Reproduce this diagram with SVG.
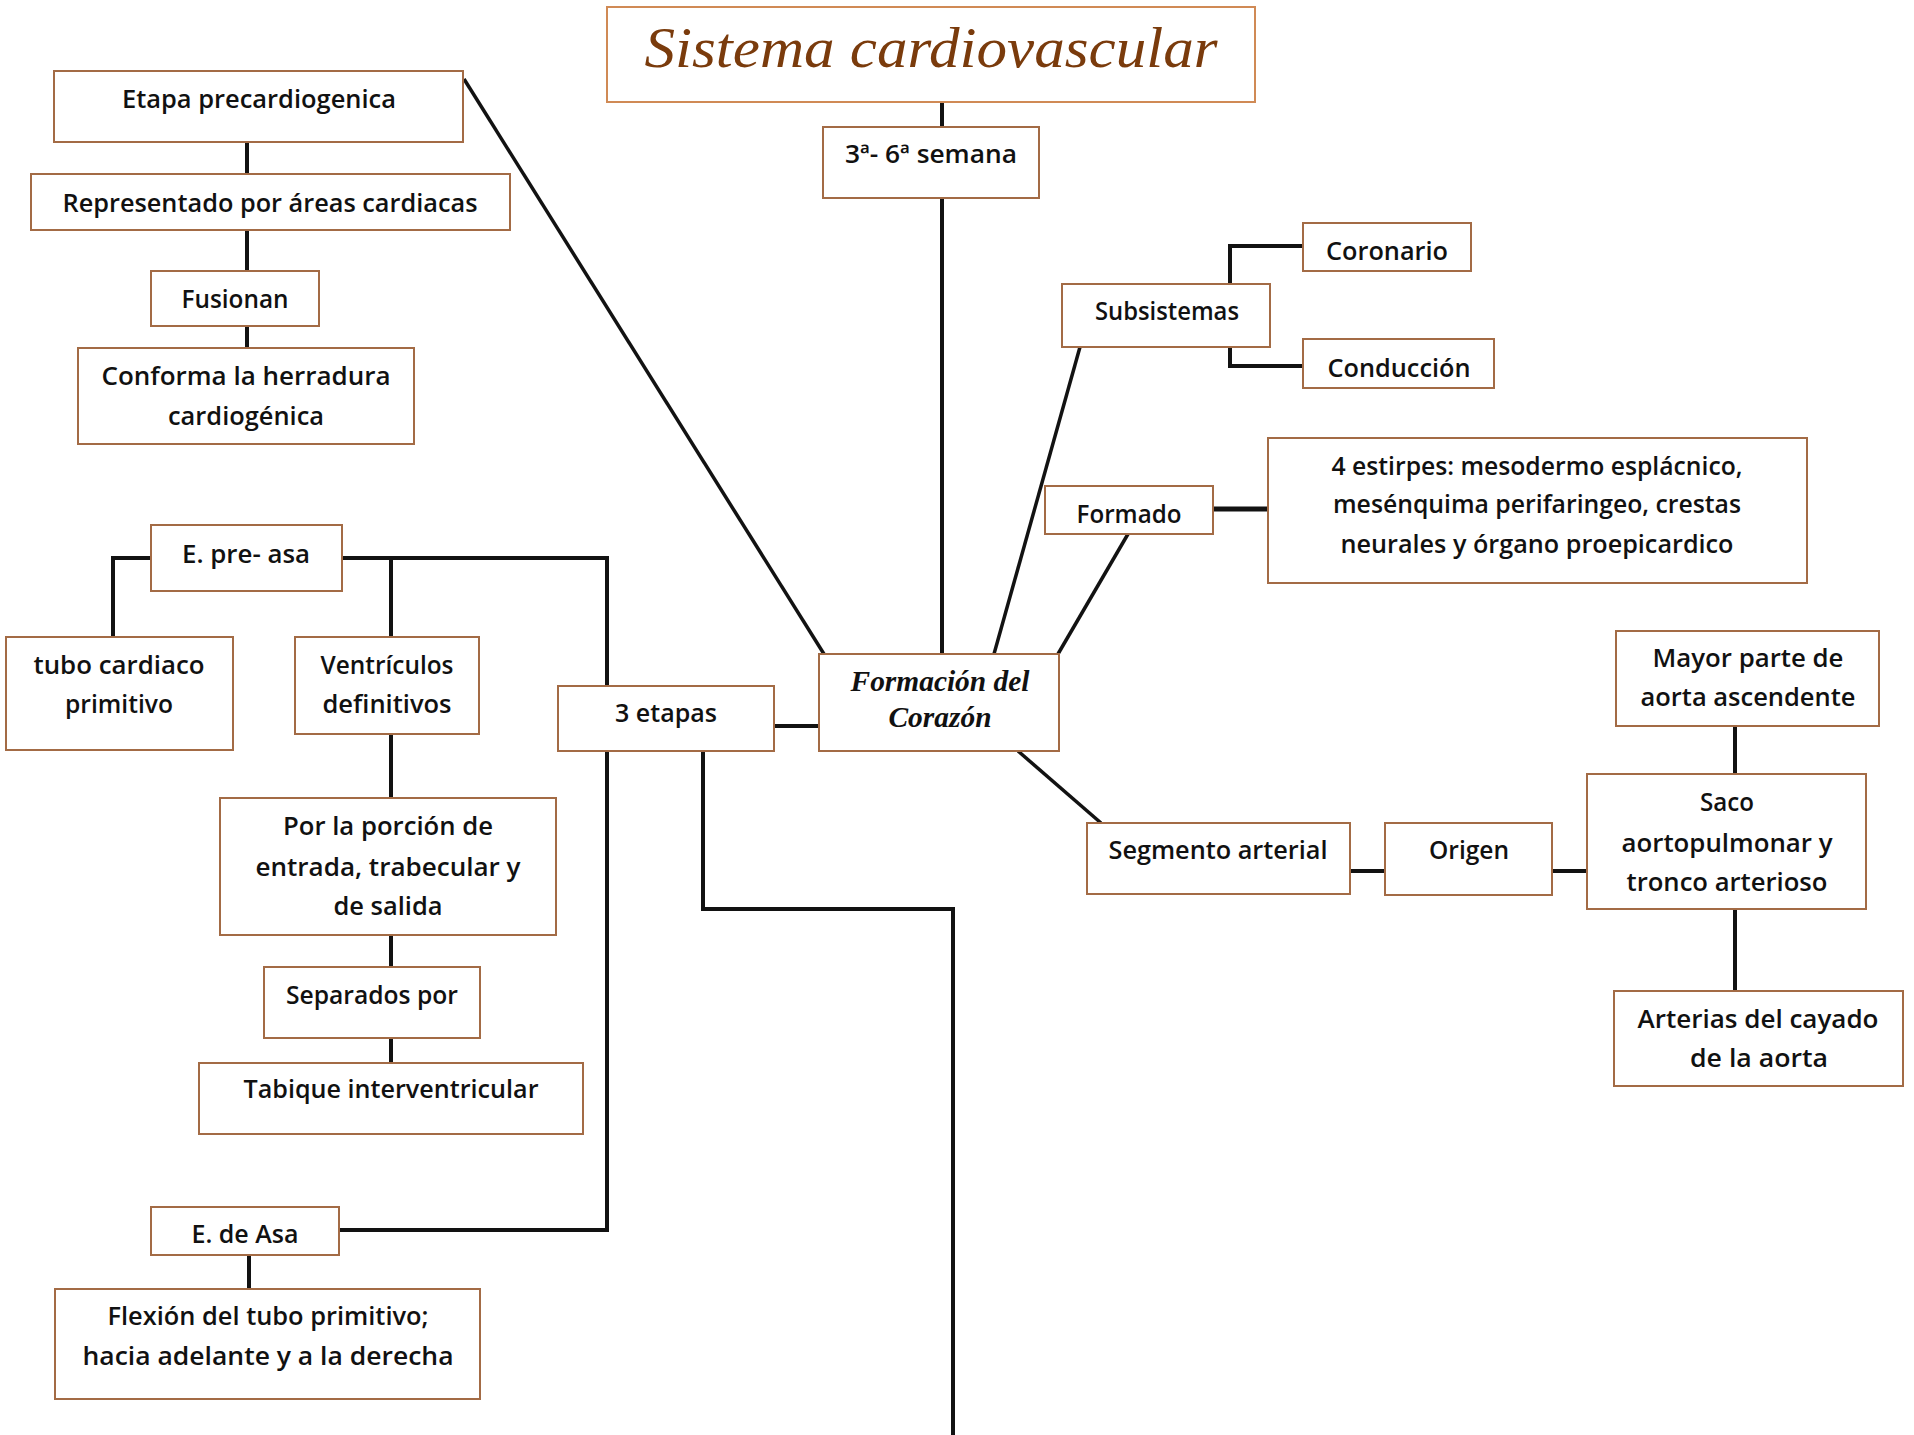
<svg xmlns="http://www.w3.org/2000/svg" width="1914" height="1435" viewBox="0 0 1914 1435">
  <style>
    .box { fill: #ffffff; stroke: #a36b45; stroke-width: 2; }
    .box-title { fill: #ffffff; stroke: #d08a55; stroke-width: 2; }
    .lbl { font-family: "Open Sans", "Liberation Sans", sans-serif; font-size: 26px; font-weight: 600; fill: #111111; text-anchor: middle; }
    .ttl { font-family: "Liberation Serif", "DejaVu Serif", serif; font-style: italic; font-size: 58px; fill: #7a3b0c; text-anchor: middle; }
    .hub { font-family: "Liberation Serif", "DejaVu Serif", serif; font-style: italic; font-weight: bold; font-size: 29px; fill: #111111; text-anchor: middle; }
    .con { fill: none; stroke: #121212; stroke-width: 4; stroke-linejoin: miter; }
    .con-thin { fill: none; stroke: #121212; stroke-width: 3.5; }
  </style>
  <rect width="1914" height="1435" fill="#ffffff"/>

  <!-- connectors (drawn first so boxes sit on top) -->
  <g id="connectors">
    <path class="con" d="M942 102 V127"/>
    <path class="con" d="M942 198 V654"/>
    <path class="con-thin" d="M464 79 L824 654"/>
    <path class="con" d="M247 142 V174 M247 230 V271 M247 326 V348"/>
    <path class="con-thin" d="M1080 347 L994 654"/>
    <path class="con" d="M1230 284 V246 H1303"/>
    <path class="con" d="M1230 347 V366 H1303"/>
    <path class="con" d="M1213 509 H1268" style="stroke-width:5"/>
    <path class="con-thin" d="M1128 534 L1058 654"/>
    <path class="con" d="M774 726 H819"/>
    <path class="con-thin" d="M1018 751 L1101 823"/>
    <path class="con" d="M1350 871 H1385 M1552 871 H1587"/>
    <path class="con" d="M1735 726 V774 M1735 909 V991"/>
    <path class="con" d="M151 558 H113 V637"/>
    <path class="con" d="M342 558 H607 V1230 H339"/>
    <path class="con" d="M391 558 V637"/>
    <path class="con" d="M391 734 V798 M391 935 V967 M391 1038 V1063"/>
    <path class="con" d="M249 1255 V1289"/>
    <path class="con" d="M703 751 V909 H953 V1435"/>
  </g>

  <g id="title">
    <rect class="box-title" x="607" y="7" width="648" height="95"/>
    <text class="ttl" x="931" y="67" textLength="573" lengthAdjust="spacingAndGlyphs">Sistema cardiovascular</text>
  </g>

  <g id="semana">
    <rect class="box" x="823" y="127" width="216" height="71"/>
    <text class="lbl" x="931" y="163" textLength="172" lengthAdjust="spacingAndGlyphs">3ª- 6ª semana</text>
  </g>

  <g id="formacion">
    <rect class="box" x="819" y="654" width="240" height="97"/>
    <text class="hub" x="940" y="691" textLength="179" lengthAdjust="spacingAndGlyphs">Formación del</text>
    <text class="hub" x="940" y="727" textLength="103" lengthAdjust="spacingAndGlyphs">Corazón</text>
  </g>

  <g id="etapa-precardiogenica">
    <rect class="box" x="54" y="71" width="409" height="71"/>
    <text class="lbl" x="259" y="108" textLength="274" lengthAdjust="spacingAndGlyphs">Etapa precardiogenica</text>
  </g>

  <g id="representado">
    <rect class="box" x="31" y="174" width="479" height="56"/>
    <text class="lbl" x="270" y="212" textLength="415" lengthAdjust="spacingAndGlyphs">Representado por áreas cardiacas</text>
  </g>

  <g id="fusionan">
    <rect class="box" x="151" y="271" width="168" height="55"/>
    <text class="lbl" x="235" y="308" textLength="107" lengthAdjust="spacingAndGlyphs">Fusionan</text>
  </g>

  <g id="herradura">
    <rect class="box" x="78" y="348" width="336" height="96"/>
    <text class="lbl" x="246" y="385" textLength="289" lengthAdjust="spacingAndGlyphs">Conforma la herradura</text>
    <text class="lbl" x="246" y="425" textLength="156" lengthAdjust="spacingAndGlyphs">cardiogénica</text>
  </g>

  <g id="e-pre-asa">
    <rect class="box" x="151" y="525" width="191" height="66"/>
    <text class="lbl" x="246" y="563" textLength="128" lengthAdjust="spacingAndGlyphs">E. pre- asa</text>
  </g>

  <g id="tubo-cardiaco">
    <rect class="box" x="6" y="637" width="227" height="113"/>
    <text class="lbl" x="119" y="674" textLength="171" lengthAdjust="spacingAndGlyphs">tubo cardiaco</text>
    <text class="lbl" x="119" y="713" textLength="108" lengthAdjust="spacingAndGlyphs">primitivo</text>
  </g>

  <g id="ventriculos">
    <rect class="box" x="295" y="637" width="184" height="97"/>
    <text class="lbl" x="387" y="674" textLength="133" lengthAdjust="spacingAndGlyphs">Ventrículos</text>
    <text class="lbl" x="387" y="713" textLength="129" lengthAdjust="spacingAndGlyphs">definitivos</text>
  </g>

  <g id="porcion">
    <rect class="box" x="220" y="798" width="336" height="137"/>
    <text class="lbl" x="388" y="835" textLength="210" lengthAdjust="spacingAndGlyphs">Por la porción de</text>
    <text class="lbl" x="388" y="876" textLength="265" lengthAdjust="spacingAndGlyphs">entrada, trabecular y</text>
    <text class="lbl" x="388" y="915" textLength="109" lengthAdjust="spacingAndGlyphs">de salida</text>
  </g>

  <g id="separados">
    <rect class="box" x="264" y="967" width="216" height="71"/>
    <text class="lbl" x="372" y="1004" textLength="172" lengthAdjust="spacingAndGlyphs">Separados por</text>
  </g>

  <g id="tabique">
    <rect class="box" x="199" y="1063" width="384" height="71"/>
    <text class="lbl" x="391" y="1098" textLength="295" lengthAdjust="spacingAndGlyphs">Tabique interventricular</text>
  </g>

  <g id="e-de-asa">
    <rect class="box" x="151" y="1207" width="188" height="48"/>
    <text class="lbl" x="245" y="1243" textLength="107" lengthAdjust="spacingAndGlyphs">E. de Asa</text>
  </g>

  <g id="flexion">
    <rect class="box" x="55" y="1289" width="425" height="110"/>
    <text class="lbl" x="268" y="1325" textLength="321" lengthAdjust="spacingAndGlyphs">Flexión del tubo primitivo;</text>
    <text class="lbl" x="268" y="1365" textLength="371" lengthAdjust="spacingAndGlyphs">hacia adelante y a la derecha</text>
  </g>

  <g id="tres-etapas">
    <rect class="box" x="558" y="686" width="216" height="65"/>
    <text class="lbl" x="666" y="722" textLength="102" lengthAdjust="spacingAndGlyphs">3 etapas</text>
  </g>

  <g id="subsistemas">
    <rect class="box" x="1062" y="284" width="208" height="63"/>
    <text class="lbl" x="1167" y="320" textLength="144" lengthAdjust="spacingAndGlyphs">Subsistemas</text>
  </g>

  <g id="coronario">
    <rect class="box" x="1303" y="223" width="168" height="48"/>
    <text class="lbl" x="1387" y="260" textLength="122" lengthAdjust="spacingAndGlyphs">Coronario</text>
  </g>

  <g id="conduccion">
    <rect class="box" x="1303" y="339" width="191" height="49"/>
    <text class="lbl" x="1399" y="377" textLength="143" lengthAdjust="spacingAndGlyphs">Conducción</text>
  </g>

  <g id="formado">
    <rect class="box" x="1045" y="486" width="168" height="48"/>
    <text class="lbl" x="1129" y="523" textLength="105" lengthAdjust="spacingAndGlyphs">Formado</text>
  </g>

  <g id="estirpes">
    <rect class="box" x="1268" y="438" width="539" height="145"/>
    <text class="lbl" x="1537" y="475" textLength="411" lengthAdjust="spacingAndGlyphs">4 estirpes: mesodermo esplácnico,</text>
    <text class="lbl" x="1537" y="513" textLength="408" lengthAdjust="spacingAndGlyphs">mesénquima perifaringeo, crestas</text>
    <text class="lbl" x="1537" y="553" textLength="393" lengthAdjust="spacingAndGlyphs">neurales y órgano proepicardico</text>
  </g>

  <g id="segmento">
    <rect class="box" x="1087" y="823" width="263" height="71"/>
    <text class="lbl" x="1218" y="859" textLength="219" lengthAdjust="spacingAndGlyphs">Segmento arterial</text>
  </g>

  <g id="origen">
    <rect class="box" x="1385" y="823" width="167" height="72"/>
    <text class="lbl" x="1469" y="859" textLength="80" lengthAdjust="spacingAndGlyphs">Origen</text>
  </g>

  <g id="saco">
    <rect class="box" x="1587" y="774" width="279" height="135"/>
    <text class="lbl" x="1727" y="811" textLength="54" lengthAdjust="spacingAndGlyphs">Saco</text>
    <text class="lbl" x="1727" y="852" textLength="211" lengthAdjust="spacingAndGlyphs">aortopulmonar y</text>
    <text class="lbl" x="1727" y="891" textLength="201" lengthAdjust="spacingAndGlyphs">tronco arterioso</text>
  </g>

  <g id="mayor-parte">
    <rect class="box" x="1616" y="631" width="263" height="95"/>
    <text class="lbl" x="1748" y="667" textLength="191" lengthAdjust="spacingAndGlyphs">Mayor parte de</text>
    <text class="lbl" x="1748" y="706" textLength="215" lengthAdjust="spacingAndGlyphs">aorta ascendente</text>
  </g>

  <g id="arterias">
    <rect class="box" x="1614" y="991" width="289" height="95"/>
    <text class="lbl" x="1758" y="1028" textLength="241" lengthAdjust="spacingAndGlyphs">Arterias del cayado</text>
    <text class="lbl" x="1759" y="1067" textLength="138" lengthAdjust="spacingAndGlyphs">de la aorta</text>
  </g>
</svg>
